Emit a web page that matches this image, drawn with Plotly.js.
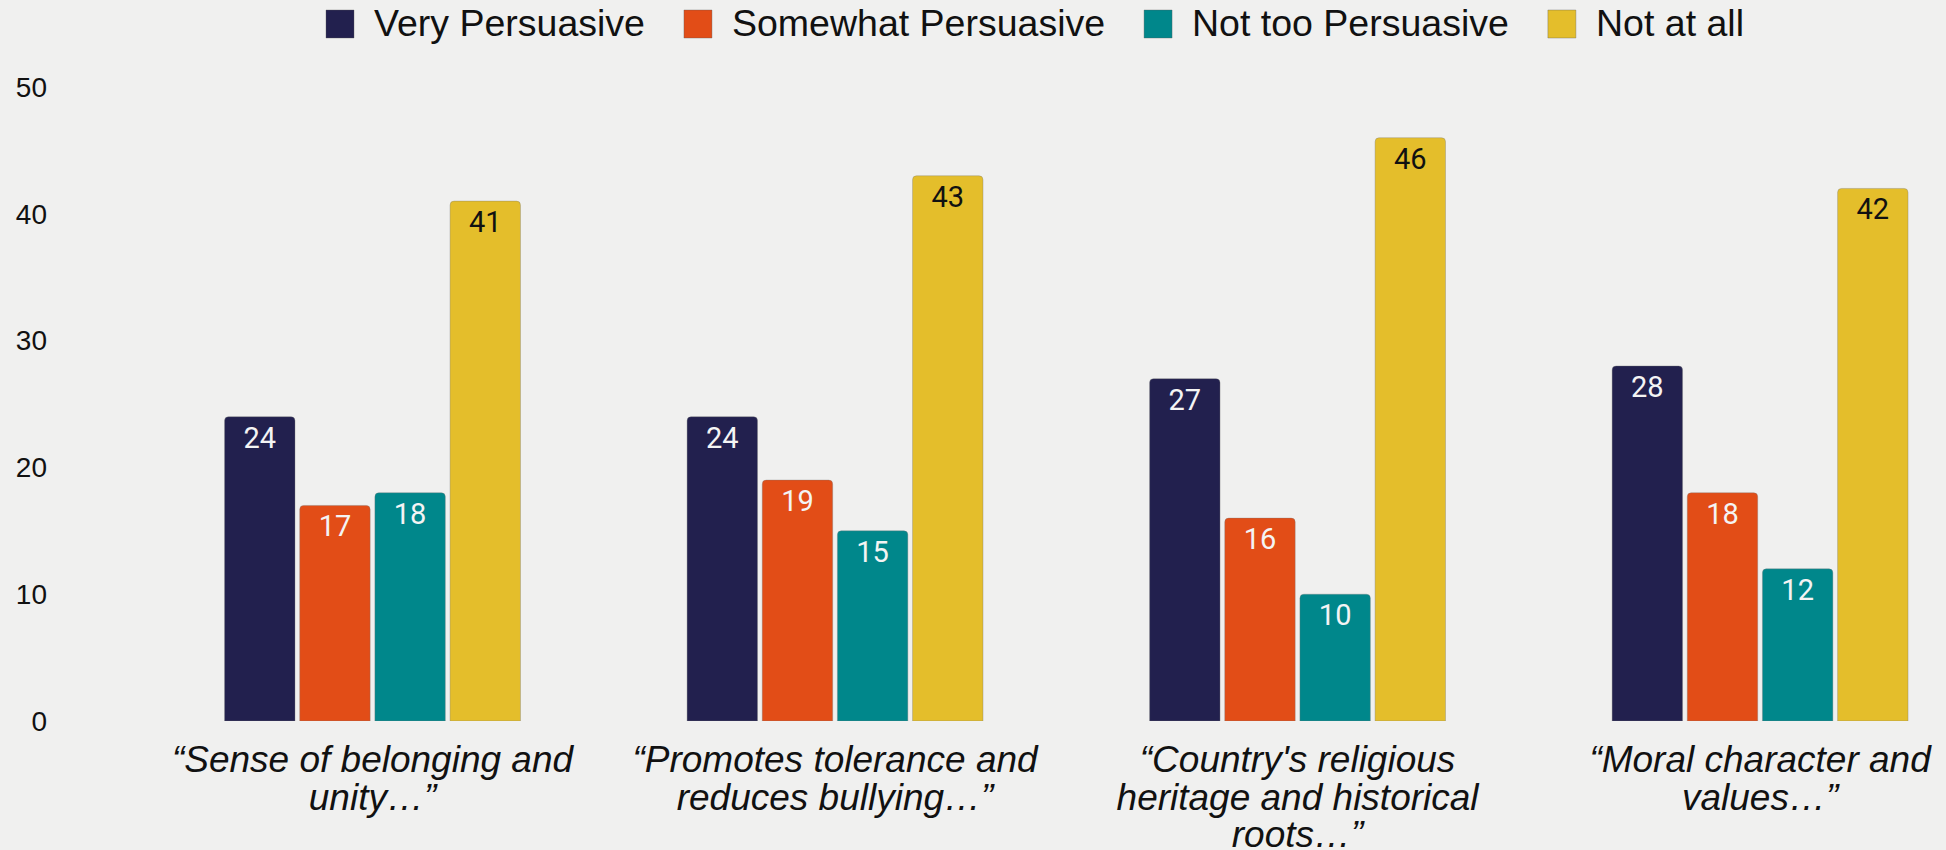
<!DOCTYPE html>
<html>
<head>
<meta charset="utf-8">
<script src="https://cdn.plot.ly/plotly-3.0.1.min.js"></script>
<style>html,body{margin:0;padding:0;background:#f0f0ef;}#chart{width:1946px;height:850px;}</style>
</head>
<body>
<div id="chart"></div>
<script>
const categories = [
  "“Sense of belonging and unity…”",
  "“Promotes tolerance and reduces bullying…”",
  "“Country's religious heritage and historical roots…”",
  "“Moral character and values…”"
];
const seriesNames = ["Very Persuasive", "Somewhat Persuasive", "Not too Persuasive", "Not at all"];
const veryPersuasive = [24, 24, 27, 28];
const somewhatPersuasive = [17, 19, 16, 18];
const notTooPersuasive = [18, 15, 10, 12];
const notAtAll = [41, 43, 46, 42];
const yTicks = [0, 10, 20, 30, 40, 50];

const colors = ["#22204e", "#e24d17", "#00878b", "#e4be2b"];
const textColors = ["#f4f4f4", "#f4f4f4", "#f4f4f4", "#111111"];
const values = [veryPersuasive, somewhatPersuasive, notTooPersuasive, notAtAll];

const W = 1946, H = 850;
const M = {l: 52, r: 0, t: 87, b: 129};
const plotW = W - M.l - M.r, plotH = H - M.t - M.b;
const px2x = p => (p - M.l) / plotW;
const px2y = p => (H - M.b - p) / plotH;

// wrap category labels into lines of at most 23 characters
function wrap(s, n) {
  const words = s.split(" ");
  const lines = [];
  let cur = "";
  words.forEach(w => {
    if (cur && (cur + " " + w).length > n) { lines.push(cur); cur = w; }
    else cur = cur ? cur + " " + w : w;
  });
  if (cur) lines.push(cur);
  return lines;
}
const labelFont = 37;
const tickText = categories.map(c =>
  wrap(c, 23).map(l => `<span style="font-size:${labelFont}px">${l}</span>`).join("<br>")
);

const traces = values.map((v, i) => ({
  type: "bar",
  name: seriesNames[i],
  x: categories,
  y: v,
  text: v.map(String),
  textposition: "inside",
  insidetextanchor: "end",
  constraintext: "none",
  textangle: 0,
  textfont: {family: "Roboto, sans-serif", size: 29, color: textColors[i]},
  marker: {color: colors[i], cornerradius: 4, line: {width: 1, color: "rgba(120,120,120,0.35)"}},
  showlegend: false,
  hoverinfo: "skip"
}));

// custom legend with large square swatches
const legendFont = "Liberation Sans, Arial, sans-serif";
const legendSize = 37.5;
const cv = document.createElement("canvas").getContext("2d");
cv.font = `${legendSize}px "Liberation Sans", Arial, sans-serif`;
const shapes = [], annotations = [];
let cx = 326;
seriesNames.forEach((name, i) => {
  shapes.push({
    type: "rect", xref: "paper", yref: "paper",
    x0: px2x(cx), x1: px2x(cx + 28), y0: px2y(38), y1: px2y(10),
    fillcolor: colors[i], line: {width: 1, color: "rgba(90,90,90,0.35)"}
  });
  annotations.push({
    xref: "paper", yref: "paper", x: px2x(cx + 46), y: px2y(23),
    xanchor: "left", yanchor: "middle", showarrow: false,
    text: name, font: {family: legendFont, size: legendSize, color: "#111"}
  });
  cx += 28 + 19 + cv.measureText(name).width + 40;
});

const layout = {
  width: W,
  height: H,
  paper_bgcolor: "#f0f0ef",
  plot_bgcolor: "#f0f0ef",
  margin: M,
  barmode: "group",
  bargap: 0.35,
  bargroupgap: 0.063,
  showlegend: false,
  shapes: shapes,
  annotations: annotations,
  xaxis: {
    type: "category",
    range: [-0.693, 3.402],
    tickmode: "array",
    tickvals: categories,
    ticktext: tickText,
    showgrid: false, zeroline: false, showline: false, ticks: "",
    tickfont: {family: "Liberation Sans, Arial, sans-serif", size: 29, color: "#111", style: "italic"},
    ticklabelstandoff: 21,
    tickangle: 0,
    automargin: false
  },
  yaxis: {
    range: [0, 50],
    tickvals: yTicks,
    showgrid: false, zeroline: false, showline: false, ticks: "",
    tickfont: {family: "Liberation Sans, Arial, sans-serif", size: 28, color: "#111"},
    ticklabelstandoff: 4,
    automargin: false
  }
};

Plotly.newPlot("chart", traces, layout, {displayModeBar: false, staticPlot: true});
</script>
</body>
</html>
